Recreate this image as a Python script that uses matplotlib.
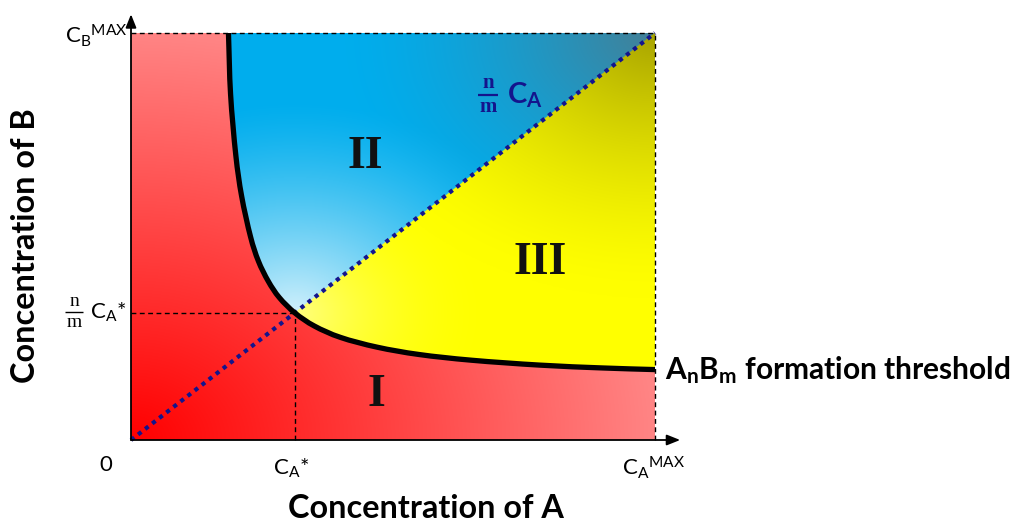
import numpy as np
import matplotlib
matplotlib.use("Agg")
import matplotlib.pyplot as plt
from matplotlib.path import Path
from matplotlib.patches import PathPatch

# ---------------- data (axes scaled 0..1) ----------------
threshold_x = [0.186, 0.190, 0.200, 0.211, 0.228, 0.243, 0.262, 0.283,
               0.313, 0.350, 0.400, 0.470, 0.550, 0.650, 0.780, 0.900, 1.000]
threshold_y = [1.000, 0.850, 0.700, 0.600, 0.500, 0.440, 0.390, 0.350,
               0.312, 0.280, 0.252, 0.228, 0.210, 0.196, 0.184, 0.177, 0.173]
ca_star = 0.313          # C_A*
cb_star = 0.312          # n/m C_A*
ratio_nm = 1.0           # slope n/m of the stoichiometric line
ca_max = 1.0
cb_max = 1.0
region_labels = ["I", "II", "III"]
region_label_x = [0.469, 0.447, 0.781]
region_label_y = [0.111, 0.695, 0.435]

# ---------------- fonts ----------------
plt.rcParams['font.family'] = ['Lato', 'DejaVu Sans']
plt.rcParams['mathtext.fontset'] = 'custom'
plt.rcParams['mathtext.rm'] = 'Lato'
plt.rcParams['mathtext.it'] = 'Lato:italic'
plt.rcParams['mathtext.bf'] = 'Lato:bold'

fig = plt.figure(figsize=(10.19, 5.23), dpi=100)
ax = fig.add_axes([131/1019, 83/523, 524/1019, 407/523])
ax.set_xlim(0, ca_max)
ax.set_ylim(0, cb_max)
ax.set_axis_off()

# ---------------- smooth path through the threshold points ----------------
pts = np.column_stack([threshold_x, threshold_y])
def bezier_path_vertices(p):
    ext = np.vstack([p[0] - (p[1] - p[0]), p, p[-1] + (p[-1] - p[-2])])
    verts = [p[0]]
    codes = [Path.MOVETO]
    for i in range(1, len(ext) - 2):
        p0, p1, p2, p3 = ext[i - 1], ext[i], ext[i + 1], ext[i + 2]
        c1 = p1 + (p2 - p0) / 6.0
        c2 = p2 - (p3 - p1) / 6.0
        verts += [c1, c2, p2]
        codes += [Path.CURVE4] * 3
    return verts, codes

cv, cc = bezier_path_vertices(pts)

# ---------------- background gradients ----------------
N = 700
xs = np.linspace(0, 1, N)
X, Y = np.meshgrid(xs, xs)
d_star = np.hypot(X - ca_star, Y - cb_star)
d_corner = np.hypot(1 - X, 1 - Y)

# region I (red)
t = np.clip(np.hypot(X, Y), 0, 1)
red = np.zeros((N, N, 3))
red[..., 0] = 1.0
red[..., 1] = 0.52 * t
red[..., 2] = 0.52 * t
ax.imshow(red, extent=[0, 1, 0, 1], origin='lower', aspect='auto',
          interpolation='bilinear', zorder=1)

# regions II (blue) and III (yellow)
blue = np.zeros((N, N, 3))
base_b = np.array([0.0, 0.68, 0.93])
w = (np.clip(1 - d_star / 0.52, 0, 1) ** 1.3 * 0.82)[..., None]
blue[:] = base_b
blue = blue + (1 - blue) * w
s = (np.clip(1 - d_corner / 0.6, 0, 1) ** 1.5 * 0.7)[..., None]
blue = blue * (1 - s) + np.array([0.38, 0.42, 0.44]) * s

yel = np.zeros((N, N, 3))
yel[:] = np.array([1.0, 1.0, 0.0])
wy = (np.clip(1 - d_star / 0.38, 0, 1) ** 2 * 0.5)[..., None]
yel = yel + (1 - yel) * wy
sy = (np.clip(1 - d_corner / 0.65, 0, 1) ** 1.6 * 0.62)[..., None]
yel = yel * (1 - sy) + np.array([0.45, 0.42, 0.0]) * sy

upper = np.where((Y > ratio_nm * X)[..., None], blue, yel)
im = ax.imshow(upper, extent=[0, 1, 0, 1], origin='lower', aspect='auto',
               interpolation='bilinear', zorder=2)
clip_verts = list(cv) + [(1.0, 1.0), (threshold_x[0], 1.0)]
clip_codes = list(cc) + [Path.LINETO, Path.CLOSEPOLY]
clip_patch = PathPatch(Path(clip_verts, clip_codes), transform=ax.transData,
                       facecolor='none', edgecolor='none')
ax.add_patch(clip_patch)
im.set_clip_path(clip_patch)

# ---------------- lines ----------------
dash = dict(color='black', lw=1.0, linestyle=(0, (3.5, 2.5)), zorder=4, clip_on=False)
ax.plot([0, ca_max], [cb_max, cb_max], **dash)
ax.plot([ca_max, ca_max], [0, cb_max], **dash)
ax.plot([0, ca_star], [cb_star, cb_star], **dash)
ax.plot([ca_star, ca_star], [0, cb_star], **dash)

diag_x = np.array([0.0, ca_max])
ax.plot(diag_x, ratio_nm * diag_x, color='#14148c', lw=3.0,
        linestyle=(0, (1, 1.15)), zorder=5, clip_on=False)

ax.add_patch(PathPatch(Path(cv, cc), facecolor='none', edgecolor='black',
                       lw=3.8, zorder=6, capstyle='butt'))

# axes arrows
arw = dict(arrowstyle='-|>,head_length=0.8,head_width=0.32', lw=1.3, color='black',
           shrinkA=0, shrinkB=0)
ax.annotate('', xy=(1.048, 0), xytext=(0, 0), arrowprops=arw, annotation_clip=False, zorder=7)
ax.annotate('', xy=(0, 1.046), xytext=(0, 0), arrowprops=arw, annotation_clip=False, zorder=7)

# ---------------- texts ----------------
def px(x):
    return (x - 131) / 524.0
def py(y):
    return (440 - y) / 407.0

tick_fs = 16
ax.text(px(106), py(465), '0', ha='center', va='center', fontsize=tick_fs)
ax.text(px(273), py(475), r'C$_\mathrm{A}$*', ha='left', va='baseline', fontsize=tick_fs)
ax.text(px(622), py(475), r'C$_\mathrm{A}$$^\mathrm{MAX}$', ha='left', va='baseline', fontsize=tick_fs)
ax.text(px(65), py(43), r'C$_\mathrm{B}$$^\mathrm{MAX}$', ha='left', va='baseline', fontsize=tick_fs)
ax.text(px(90), py(319), r'C$_\mathrm{A}$*', ha='left', va='baseline', fontsize=tick_fs)

def fraction(xc, yc, fs, color, weight, half_w, lw):
    ax.annotate('n', xy=(xc, yc), xytext=(0, 1.5), textcoords='offset points',
                ha='center', va='bottom', fontsize=fs, color=color,
                family='Liberation Serif', weight=weight, annotation_clip=False)
    ax.annotate('m', xy=(xc, yc), xytext=(0, -1.5), textcoords='offset points',
                ha='center', va='top', fontsize=fs, color=color,
                family='Liberation Serif', weight=weight, annotation_clip=False)
    ax.plot([xc - half_w, xc + half_w], [yc, yc], color=color, lw=lw,
            clip_on=False, solid_capstyle='butt')

fraction(px(74), py(312), 14, 'black', 'normal', 0.017, 1.0)
fraction(px(488), py(95), 15, '#14148c', 'bold', 0.02, 1.6)
ax.text(px(507), py(104), r'C$_\mathbf{A}$', ha='left', va='baseline',
        fontsize=21, color='#14148c', weight='bold')

for lab, lx, ly in zip(region_labels, region_label_x, region_label_y):
    ax.text(lx, ly, lab, ha='center', va='center', fontsize=33,
            family='Liberation Serif', weight='bold', color='#111111', zorder=8)

ax.text(px(665), py(379), r'A$_\mathbf{n}$B$_\mathbf{m}$ formation threshold',
        ha='left', va='baseline', fontsize=21.5, weight='bold')

ax.text(px(426), py(518), 'Concentration of A', ha='center', va='baseline',
        fontsize=23.3, weight='bold')
ax.text(px(26), py(246), 'Concentration of B', ha='center', va='center',
        rotation=90, fontsize=23.3, weight='bold')

fig.savefig('out.png', dpi=100)
